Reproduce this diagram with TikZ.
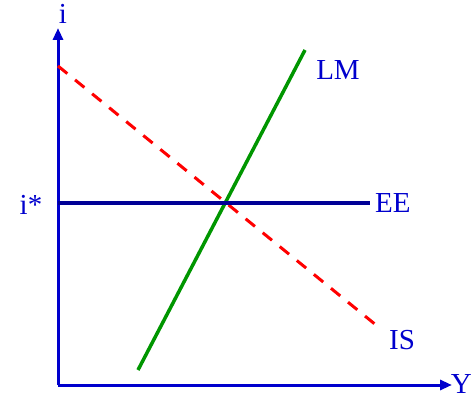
\documentclass[tikz,border=0pt]{standalone}
\usepackage{fontspec}
\setmainfont{Liberation Serif}
\usepackage{xcolor}
\usetikzlibrary{arrows.meta, positioning}
\definecolor{axisblue}{RGB}{0,0,205}
\definecolor{eeblue}{RGB}{0,0,150}
\definecolor{lmgreen}{RGB}{0,150,0}
\def\labelSize{\fontsize{29}{34}\selectfont}

\begin{document}
\begin{tikzpicture}[
    x=1pt, y=1pt,
    >={Triangle[length=12pt,width=10pt]},
    axis/.style={draw=axisblue, line width=3pt},
    curvelabel/.style={text=axisblue, font=\labelSize, inner sep=0pt}
]
\useasboundingbox (0,0) rectangle (475,400);
% axes
\coordinate (O) at (58,15);
\coordinate (ytip) at (58,372);
\coordinate (xtip) at (452,15);
\draw[axis, ->] (O) -- (ytip);
\draw[axis, ->] (O) -- (xtip);
\node[curvelabel] (ilab) at (63,386) {i};
\node[curvelabel, anchor=base east] (Ylab) at (472,7) {Y};
% curves
\coordinate (EEa) at (58,197);
\coordinate (EEb) at (370,197);
\coordinate (LMa) at (138,30);
\coordinate (LMb) at (305,350);
\coordinate (ISa) at (58,334);
\coordinate (ISb) at (376,75);
\draw[draw=red, line width=3pt, dash pattern=on 12pt off 10pt] (ISa) -- (ISb);
\draw[draw=lmgreen, line width=3.5pt] (LMa) -- (LMb);
\draw[draw=eeblue, line width=4pt] (EEa) -- (EEb);
\node[curvelabel] (istar) at (31,195) {i*};
\node[curvelabel, right=5pt of EEb] (EElab) {EE};
\node[curvelabel] (LMlab) at (338,330) {LM};
\node[curvelabel] (ISlab) at (402,60) {IS};
\end{tikzpicture}
\end{document}
